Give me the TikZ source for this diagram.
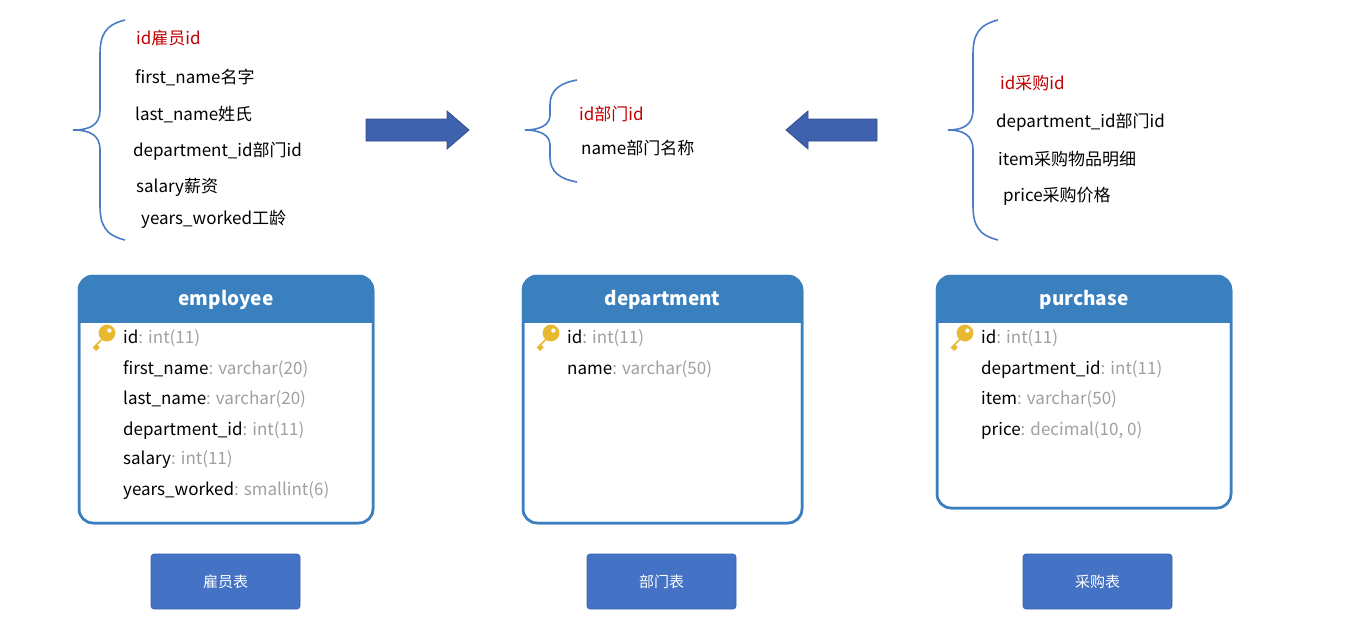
\documentclass[tikz,border=0pt]{standalone}
\usepackage{fontspec}
\setmainfont{Noto Sans CJK SC}
\usetikzlibrary{positioning}
\definecolor{tblue}{HTML}{3A80BF}
\definecolor{bblue}{HTML}{4472C4}
\definecolor{ablue}{HTML}{3F62AE}
\definecolor{bracecol}{HTML}{4A7CC6}
\definecolor{keycol}{HTML}{E8B930}
\definecolor{idred}{HTML}{C00000}
\definecolor{typegray}{HTML}{A0A0A0}
\tikzset{
    note/.style={anchor=west, inner sep=0, font=\fontsize{17}{20}\selectfont},
    note id/.style={note, text=idred},
    field/.style={anchor=west, inner sep=0, font=\fontsize{17}{20}\selectfont},
    table box/.style={draw=tblue, line width=2.5pt, rounded corners=14pt, fill=white},
    table head/.style={fill=tblue, rounded corners=14pt},
    title/.style={text=white, font=\bfseries\fontsize{19}{22}\selectfont},
    button/.style={fill=bblue, draw=bblue!85!black, line width=0.6pt, rounded corners=3pt,
        minimum width=149pt, minimum height=55pt, text=white, font=\fontsize{15}{17}\selectfont},
    brace/.style={draw=bracecol, line width=1.6pt},
    block arrow/.style={fill=ablue, draw=ablue!80!black, line width=0.8pt},
}
\newcommand\keyicon[1]{
    \begin{scope}[shift={#1}, scale=1.2]
        \fill[keycol] (4,-4) -- (-7,7) -- (-4,10) -- (-1,7) -- (-3,5) -- (7,-5) -- cycle;
        \fill[keycol] (5,-5) circle (7);
        \fill[white] (7,-7) circle (1.8);
    \end{scope}
}
\newcommand\dbtable[5]{
    % #1 name, #2 left, #3 right, #4 bottom, #5 title
    \draw[table box] (#2,276) rectangle (#3,#4);
    \begin{scope}
        \clip (#2,322) rectangle (#3,270);
        \fill[table head] (#2,276) rectangle (#3,340);
    \end{scope}
    \draw[tblue, line width=2.5pt, rounded corners=14pt] (#2,276) rectangle (#3,#4);
    \node[title] (#1-title) at ({(#2+#3)/2},300) {#5};
}
\begin{document}
\begin{tikzpicture}[x=1pt, y=-1pt]
    \useasboundingbox (0,0) rectangle (1345,633);

    % braces
    \draw[brace] (125,20) .. controls (105,25) and (100,35) .. (100,55) -- (100,110)
        .. controls (100,125) and (90,130) .. (73,130)
        .. controls (90,130) and (100,135) .. (100,150) -- (100,205)
        .. controls (100,225) and (105,235) .. (125,240);
    \draw[brace] (577,80) .. controls (560,83) and (550,90) .. (550,105) -- (550,115)
        .. controls (550,125) and (540,130) .. (525,130)
        .. controls (540,130) and (550,135) .. (550,145) -- (550,157)
        .. controls (550,172) and (560,179) .. (577,182);
    \draw[brace] (998,20) .. controls (978,25) and (973,35) .. (973,55) -- (973,110)
        .. controls (973,125) and (963,130) .. (948,130)
        .. controls (963,130) and (973,135) .. (973,150) -- (973,205)
        .. controls (973,225) and (978,235) .. (998,240);

    % notes
    \node[note id] (e-id) at (136,38) {id雇员id};
    \node[note] (e-first) at (135,77) {first\_name名字};
    \node[note] (e-last) at (135,115) {last\_name姓氏};
    \node[note] (e-dept) at (133,151) {department\_id部门id};
    \node[note] (e-sal) at (136,187) {salary薪资};
    \node[note] (e-years) at (141,219) {years\_worked工龄};

    \node[note id] (d-id) at (579,114) {id部门id};
    \node[note] (d-name) at (581,148) {name部门名称};

    \node[note id] (p-id) at (1000,83) {id采购id};
    \node[note] (p-dept) at (996,122) {department\_id部门id};
    \node[note] (p-item) at (998,159) {item采购物品明细};
    \node[note] (p-price) at (1003,196) {price采购价格};

    % block arrows
    \draw[block arrow] (366,119) -- (447,119) -- (447,111) -- (469,130) -- (447,149)
        -- (447,141) -- (366,141) -- cycle;
    \draw[block arrow] (877,119) -- (808,119) -- (808,111) -- (786,130) -- (808,149)
        -- (808,141) -- (877,141) -- cycle;

    % tables
    \dbtable{emp}{79}{373}{523}{employee}
    \dbtable{dep}{523}{802}{523}{department}
    \dbtable{pur}{937}{1231}{508}{purchase}

    \keyicon{(101,339)}
    \node[field] (emp-1) at (123,338) {id\textcolor{typegray}{: int(11)}};
    \node[field] (emp-2) at (123,369) {first\_name\textcolor{typegray}{: varchar(20)}};
    \node[field] (emp-3) at (123,399) {last\_name\textcolor{typegray}{: varchar(20)}};
    \node[field] (emp-4) at (123,430) {department\_id\textcolor{typegray}{: int(11)}};
    \node[field] (emp-5) at (123,460) {salary\textcolor{typegray}{: int(11)}};
    \node[field] (emp-6) at (123,491) {years\_worked\textcolor{typegray}{: smallint(6)}};

    \keyicon{(545,339)}
    \node[field] (dep-1) at (567,338) {id\textcolor{typegray}{: int(11)}};
    \node[field] (dep-2) at (567,369) {name\textcolor{typegray}{: varchar(50)}};

    \keyicon{(959,339)}
    \node[field] (pur-1) at (981,338) {id\textcolor{typegray}{: int(11)}};
    \node[field] (pur-2) at (981,369) {department\_id\textcolor{typegray}{: int(11)}};
    \node[field] (pur-3) at (981,399) {item\textcolor{typegray}{: varchar(50)}};
    \node[field] (pur-4) at (981,430) {price\textcolor{typegray}{: decimal(10, 0)}};

    % buttons
    \node[button] (btn-emp) at (225.5,581.5) {雇员表};
    \node[button] (btn-dep) at (661.5,581.5) {部门表};
    \node[button] (btn-pur) at (1097.5,581.5) {采购表};
\end{tikzpicture}
\end{document}
